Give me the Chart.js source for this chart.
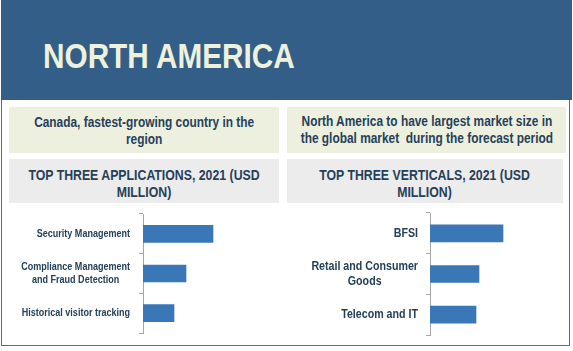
<!DOCTYPE html>
<html>
<head>
<meta charset="utf-8">
<script src="https://cdn.jsdelivr.net/npm/chart.js@4.4.0/dist/chart.umd.min.js"></script>
<style>
  body { margin: 0; width: 573px; height: 351px; background: #fff; position: relative; overflow: hidden;
         font-family: "Liberation Sans", Arial, sans-serif; }
  .header { position: absolute; left: 1px; top: 0; width: 571px; height: 100px; background: #335e88; }
  .header h1 { position: absolute; left: 42px; top: 38px; margin: 0; font-size: 35px; font-weight: bold;
               color: #eef1dc; line-height: 35px; white-space: nowrap;
               transform: scaleX(0.85); transform-origin: left center; }
  .frame { position: absolute; left: 1px; top: 100px; width: 567px; height: 245px; border: 1.5px solid #5c6c7a; border-top: none; }
  .box { position: absolute; display: flex; align-items: center; justify-content: center; text-align: center;
         color: #26405a; font-weight: bold; }
  .box span { display: inline-block; white-space: nowrap; transform: scaleX(0.82); }
  .green { background: #edf0df; font-size: 14.5px; line-height: 17px; top: 107px; height: 46px; }
  .gray { background: #ececec; font-size: 15px; line-height: 17px; top: 159px; height: 44px; box-sizing: border-box; padding-top: 4px; }
  .chart { position: absolute; top: 205px; height: 140px; }
</style>
</head>
<body>
<div class="header"><h1>NORTH AMERICA</h1></div>
<div class="frame"></div>
<div class="box green" style="left:9px;width:270px;padding-top:2px;box-sizing:border-box;"><span>Canada, fastest-growing country in the<br>region</span></div>
<div class="box green" style="left:287px;width:279px;"><span>North America to have largest market size in<br>the global market&nbsp; during the forecast period</span></div>
<div class="box gray" style="left:9px;width:270px;"><span>TOP THREE APPLICATIONS, 2021 (USD<br>MILLION)</span></div>
<div class="box gray" style="left:287px;width:276px;"><span>TOP THREE VERTICALS, 2021 (USD<br>MILLION)</span></div>
<div class="chart" style="left:9px;width:270px;"><canvas id="appChart"></canvas></div>
<div class="chart" style="left:287px;width:276px;"><canvas id="vertChart"></canvas></div>
<script>
// datos (escala relativa, sin unidades visibles)
const appLabels = [['Security Management'], ['Compliance Management', 'and Fraud Detection'], ['Historical visitor tracking']];
const appValues = [70, 43, 31];

const vertLabels = [['BFSI'], ['Retail and Consumer', 'Goods'], ['Telecom and IT']];
const vertValues = [73, 49, 46];

const BAR_COLOR = '#3a77b7';
const TEXT_COLOR = '#26405a';
const SQUEEZE = 0.82; // letra estrecha simulada

// etiquetas estilo Excel: bloque alineado a la derecha, líneas centradas
const blockLabels = {
    id: 'blockLabels',
    afterDraw(chart, args, opts) {
        const ctx = chart.ctx;
        const y = chart.scales.y;
        const labels = chart.data.labels;
        ctx.save();
        ctx.font = 'bold ' + opts.size + 'px "Liberation Sans", Arial, sans-serif';
        ctx.fillStyle = TEXT_COLOR;
        ctx.textAlign = 'center';
        ctx.textBaseline = 'middle';
        labels.forEach((lines, i) => {
            const w = Math.max(...lines.map(l => ctx.measureText(l).width)) * SQUEEZE;
            const cx = y.left - opts.gap - w / 2;
            const cy = y.getPixelForValue(i);
            const lh = opts.size * 1.2;
            lines.forEach((l, j) => {
                ctx.save();
                ctx.translate(cx, cy + (j - (lines.length - 1) / 2) * lh);
                ctx.scale(SQUEEZE, 1);
                ctx.fillText(l, 0, 0);
                ctx.restore();
            });
        });
        ctx.restore();
    }
};

function makeChart(id, labels, values, pad, fontSize, gap) {
    return new Chart(document.getElementById(id), {
        type: 'bar',
        data: {
            labels: labels,
            datasets: [{ data: values, backgroundColor: BAR_COLOR, barThickness: 17 }]
        },
        options: {
            indexAxis: 'y',
            responsive: true,
            maintainAspectRatio: false,
            animation: false,
            layout: { padding: pad },
            scales: {
                x: { display: false, min: 0, max: 100 },
                y: {
                    ticks: { display: false },
                    grid: { drawOnChartArea: false, drawTicks: true, tickLength: 4, color: '#a6a6a6' },
                    border: { color: '#a6a6a6', width: 1 }
                }
            },
            plugins: {
                legend: { display: false },
                tooltip: { enabled: false },
                blockLabels: { size: fontSize, gap: gap }
            }
        },
        plugins: [blockLabels]
    });
}

makeChart('appChart', appLabels, appValues, { left: 130, right: 36, top: 9, bottom: 12 }, 11, 9);
makeChart('vertChart', vertLabels, vertValues, { left: 139, right: 33, top: 8, bottom: 10 }, 13, 8);
</script>
</body>
</html>
